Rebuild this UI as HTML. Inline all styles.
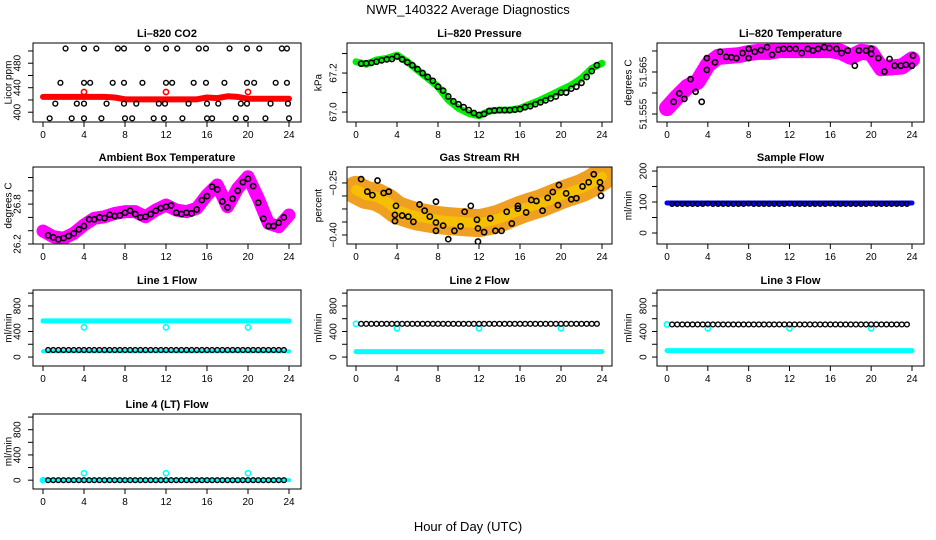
<!DOCTYPE html>
<html><head><meta charset="utf-8">
<style>
html,body{margin:0;padding:0;background:#fff;}
svg{display:block;font-family:"Liberation Sans",Arial,sans-serif;}
</style></head>
<body>
<svg id="c" width="936" height="540" viewBox="0 0 936 540">
<text x="468" y="14" text-anchor="middle" font-size="13">NWR_140322  Average Diagnostics</text>
<text x="468" y="531" text-anchor="middle" font-size="13">Hour of Day (UTC)</text>
</svg>
<script>
// ---------- data ----------
const hours = [0,1,2,3,4,5,6,7,8,9,10,11,12,13,14,15,16,17,18,19,20,21,22,23,24];
const halfT = [0.5,1,1.5,2,2.5,3,3.5,4,4.5,5,5.5,6,6.5,7,7.5,8,8.5,9,9.5,10,10.5,11,11.5,12,12.5,13,13.5,14,14.5,15,15.5,16,16.5,17,17.5,18,18.5,19,19.5,20,20.5,21,21.5,22,22.5,23,23.5];

// CO2
const co2Band = [425,425,425,425,425,425,425,424,421,421,421,421,421,421,421,421,424,423,426,425,422,422,422,422,422];
const co2RedOutT = [4,12,20];
const co2RedOutV = [433,433,433];
const co2BlackT = [2.2,4.0,5.2,7.3,7.9,10.2,12.0,13.1,15.2,15.9,18.2,19.9,21.1,23.3,23.8,
 1.7,4.0,4.6,6.8,7.9,9.7,12.0,12.6,14.7,15.9,17.7,19.9,20.6,22.7,23.8,
 1.2,3.3,4.0,6.2,7.9,9.1,11.3,11.9,14.2,16.0,17.1,19.3,19.9,22.2,23.9,
 0.65,2.8,4.0,5.7,8.0,8.7,10.8,11.8,13.6,16.0,16.5,18.8,19.8,21.7,24.0];
const co2BlackV = [504,504,504,504,504,504,504,504,504,504,504,504,504,504,504,
 448,448,448,448,448,448,448,448,448,448,448,448,448,448,448,
 414,414,414,414,414,414,414,414,414,414,414,414,414,414,414,
 390,390,390,390,390,390,390,390,390,390,390,390,390,390,390];

// Pressure
const presBand = [67.258,67.245,67.267,67.275,67.292,67.258,67.215,67.173,67.13,67.062,67.019,66.993,66.981,67.005,67.01,67.01,67.019,67.041,67.062,67.087,67.113,67.138,67.173,67.224,67.25];
const presBlack = [67.248,67.25,67.252,67.258,67.265,67.27,67.272,67.285,67.27,67.255,67.24,67.22,67.2,67.18,67.16,67.13,67.11,67.08,67.055,67.04,67.025,67.01,66.995,66.985,66.99,67.005,67.008,67.01,67.01,67.01,67.012,67.015,67.025,67.03,67.04,67.05,67.06,67.07,67.08,67.1,67.1,67.12,67.13,67.15,67.18,67.21,67.24];

// Li-820 temperature
const tempBand = [51.5564,51.5591,51.5615,51.5627,51.5667,51.5686,51.5688,51.5690,51.5695,51.5698,51.5698,51.5702,51.5702,51.5702,51.5702,51.5702,51.5702,51.5698,51.5686,51.5698,51.5695,51.5659,51.5661,51.5663,51.5680];
const tempBlackT = [0.65,1.2,1.7,2.3,2.8,3.4,3.9,3.9,4.7,5.2,5.8,6.3,6.8,7.4,8,8,8.6,9.2,9.8,10.3,10.9,11.4,12,12.6,13.2,13.8,14.3,14.8,15.4,15.9,16.6,17.1,17.7,18.4,18.8,19.5,20,20,20.7,21.3,21.8,22.3,22.9,23.4,24,24.1];
const tempBlackV = [51.5579,51.5599,51.5586,51.5633,51.5603,51.5579,51.5683,51.5655,51.5673,51.5698,51.5686,51.5685,51.5683,51.5695,51.5705,51.5683,51.5698,51.5702,51.5709,51.5691,51.5703,51.5705,51.5705,51.5705,51.5695,51.5705,51.5701,51.5705,51.5709,51.5707,51.5705,51.5695,51.5701,51.5665,51.5701,51.5701,51.5693,51.5705,51.5683,51.5651,51.5681,51.5665,51.5665,51.5667,51.5665,51.5689];

// Ambient box temperature
const ambBand = [26.395,26.31,26.285,26.36,26.486,26.586,26.61,26.66,26.686,26.686,26.61,26.71,26.786,26.71,26.686,26.737,26.937,27.087,26.761,27.037,27.212,26.887,26.511,26.46,26.636];
const ambBlack = [26.33,26.3,26.27,26.29,26.32,26.36,26.42,26.47,26.57,26.57,26.6,26.59,26.64,26.62,26.63,26.67,26.7,26.65,26.6,26.61,26.65,26.7,26.74,26.76,26.78,26.67,26.65,26.67,26.66,26.72,26.86,26.92,27.06,27.02,26.84,26.75,26.88,27.0,27.13,27.18,27.07,26.82,26.58,26.47,26.47,26.52,26.6];

// Gas stream RH
const rhBand = [-0.27,-0.285,-0.29,-0.305,-0.328,-0.338,-0.347,-0.352,-0.357,-0.36,-0.362,-0.364,-0.366,-0.36,-0.352,-0.34,-0.328,-0.318,-0.309,-0.297,-0.285,-0.275,-0.265,-0.25,-0.232];
const rhBlackT = [0.5,1.1,1.6,2.1,2.7,3.2,3.9,3.8,3.8,4.5,5.1,5.6,6.2,6.7,7.2,7.8,7.8,7.8,8.5,9,9.6,10.2,10.6,11.2,11.8,11.9,11.9,12.5,13.1,13.6,14.2,14.7,15.2,15.8,15.8,16.6,17.1,17.6,18.2,18.7,19.2,19.7,19.8,20.5,21,21.5,22.1,22.7,23.2,23.8,23.9,23.9];
const rhBlackV = [-0.239,-0.275,-0.285,-0.243,-0.279,-0.275,-0.316,-0.342,-0.36,-0.344,-0.347,-0.362,-0.312,-0.33,-0.347,-0.304,-0.364,-0.388,-0.373,-0.412,-0.388,-0.375,-0.333,-0.316,-0.356,-0.381,-0.419,-0.392,-0.352,-0.388,-0.388,-0.333,-0.367,-0.316,-0.324,-0.335,-0.299,-0.302,-0.33,-0.293,-0.276,-0.314,-0.256,-0.28,-0.297,-0.294,-0.26,-0.248,-0.225,-0.248,-0.265,-0.287];

// Sample flow
const sampleBand = [97,97,97,97,97,97,97,97,97,97,97,97,97,97,97,97,97,97,97,97,97,97,97,97,97];
const sampleBlack = [94,94,94,94,94,94,94,95,94,94,94,94,94,94,94,95,94,94,94,94,94,94,94,95,94,94,94,94,94,94,94,95,94,94,94,94,94,94,94,95,94,94,94,94,94,94,94];

// Line 1
const l1High = [565,565,565,565,565,565,565,565,565,565,565,565,565,565,565,565,565,565,565,565,565,565,565,565,565];
const l1Low = [90,90,90,90,90,90,90,90,90,90,90,90,90,90,90,90,90,90,90,90,90,90,90,90,90];
const l1Black = [110,110,110,110,110,110,110,110,110,110,110,110,110,110,110,110,110,110,110,110,110,110,110,110,110,110,110,110,110,110,110,110,110,110,110,110,110,110,110,110,110,110,110,110,110,110,110];
const l1OutT = [4,12,20];
const l1OutV = [465,465,465];
// Line 2
const l2Low = [85,85,85,85,85,85,85,85,85,85,85,85,85,85,85,85,85,85,85,85,85,85,85,85,85];
const l2Black = [520,520,520,520,520,520,520,520,520,520,520,520,520,520,520,520,520,520,520,520,520,520,520,520,520,520,520,520,520,520,520,520,520,520,520,520,520,520,520,520,520,520,520,520,520,520,520];
const l2OutT = [0,4,12,20];
const l2OutV = [520,450,450,450];
// Line 3
const l3Low = [100,100,100,100,100,100,100,100,100,100,100,100,100,100,100,100,100,100,100,100,100,100,100,100,100];
const l3Black = [510,510,510,510,510,510,510,510,510,510,510,510,510,510,510,510,510,510,510,510,510,510,510,510,510,510,510,510,510,510,510,510,510,510,510,510,510,510,510,510,510,510,510,510,510,510,510];
const l3OutT = [0,4,12,20];
const l3OutV = [510,450,450,450];
// Line 4
const l4Low = [0,0,0,0,0,0,0,0,0,0,0,0,0,0,0,0,0,0,0,0,0,0,0,0,0];
const l4Black = [0,0,0,0,0,0,0,0,0,0,0,0,0,0,0,0,0,0,0,0,0,0,0,0,0,0,0,0,0,0,0,0,0,0,0,0,0,0,0,0,0,0,0,0,0,0,0];
const l4OutT = [0,4,12,20];
const l4OutV = [0,110,110,110];

const xTickLabels = ["0","4","8","12","16","20","24"];

// ---------- drawing ----------
const svg = document.getElementById('c');
const NS = 'http://www.w3.org/2000/svg';
function mk(tag, attrs, parent){
  const e = document.createElementNS(NS, tag);
  for (const k in attrs) e.setAttribute(k, attrs[k]);
  (parent||svg).appendChild(e);
  return e;
}
const cols = [{bx0:33,bx1:301,h0:43,h24:289,lab:17,tit:8},
              {bx0:347,bx1:612,h0:356,h24:602,lab:333,tit:318},
              {bx0:657,bx1:924,h0:667,h24:912,lab:643,tit:628}];
const rows = [{y0:43,y1:122},{y0:167,y1:244},{y0:290,y1:366},{y0:414,y1:489}];

function panel(ci, ri, name, title, ytitle, lo, hi, ticks, labels, draw){
  const c = cols[ci], r = rows[ri];
  const g = mk('g', {});
  
  
  const X = h => c.h0 + h*(c.h24-c.h0)/24;
  const Y = v => r.y1 - (v-lo)/(hi-lo)*(r.y1-r.y0);
  const clipId = 'clip'+ci+ri;
  const cp = mk('clipPath', {id:clipId}, g);
  mk('rect', {x:c.bx0, y:r.y0, width:c.bx1-c.bx0, height:r.y1-r.y0}, cp);
  const plot = mk('g', {'clip-path':'url(#'+clipId+')'}, g);
  
  
  draw(plot, X, Y);
  const box = mk('rect', {x:c.bx0, y:r.y0, width:c.bx1-c.bx0, height:r.y1-r.y0, fill:'none', stroke:'#000', 'stroke-width':1}, g);
  
  
  const t = mk('text', {x:(c.bx0+c.bx1)/2, y:r.y0-6, 'text-anchor':'middle', 'font-size':11, 'font-weight':'bold'}, g);
  t.textContent = title;
  
  
  const xa = mk('g', {}, g);
  
  
  mk('line', {x1:X(0), x2:X(24), y1:r.y1, y2:r.y1, stroke:'#000'}, xa);
  xTickLabels.forEach(l => {
    const h = +l;
    mk('line', {x1:X(h), x2:X(h), y1:r.y1, y2:r.y1+5, stroke:'#000'}, xa);
    const tx = mk('text', {x:X(h), y:r.y1+16, 'text-anchor':'middle', 'font-size':10}, xa);
    tx.textContent = l;
    
    
  });
  const ya = mk('g', {}, g);
  
  
  mk('line', {x1:c.bx0, x2:c.bx0, y1:Y(ticks[0]), y2:Y(ticks[ticks.length-1]), stroke:'#000'}, ya);
  ticks.forEach(v => mk('line', {x1:c.bx0-5, x2:c.bx0, y1:Y(v), y2:Y(v), stroke:'#000'}, ya));
  labels.forEach(([v, s]) => {
    const ty = mk('text', {x:c.lab, y:Y(v), 'text-anchor':'middle', 'font-size':10, transform:'rotate(-90 '+c.lab+' '+Y(v)+')', dy:'0.35em'}, ya);
    ty.textContent = s;
    
    
  });
  const cy = (r.y0+r.y1)/2;
  const yt = mk('text', {x:c.tit, y:cy, 'text-anchor':'middle', 'font-size':10, transform:'rotate(-90 '+c.tit+' '+cy+')', dy:'0.35em'}, g);
  yt.textContent = ytitle;
  
  
}

function band(p, X, Y, ts, vs, color, w, name){
  const pts = ts.map((t,i) => X(t)+','+Y(vs[i])).join(' ');
  const e = mk('polyline', {points:pts, fill:'none', stroke:color, 'stroke-width':w, 'stroke-linejoin':'round', 'stroke-linecap':'round'}, p);
  
  
}
function pts(p, X, Y, ts, vs, color, name, r, sw){
  const g = mk('g', {}, p);
  
  
  ts.forEach((t,i) => mk('circle', {cx:X(t), cy:Y(vs[i]), r:r||2.6, fill:'none', stroke:color, 'stroke-width':sw||1.6}, g));
}

panel(0,0,'co2-panel','Li\u2013820 CO2','Licor ppm',384,513,[400,420,440,460,480,500],[[400,'400'],[440,'440'],[480,'480']],(p,X,Y)=>{
  band(p,X,Y,hours,co2Band,'#ff0000',6,'co2-band');
  pts(p,X,Y,co2RedOutT,co2RedOutV,'#ff0000','co2-red-outliers');
  pts(p,X,Y,co2BlackT,co2BlackV,'#000','co2-black-points',2.4,1.4);
});
panel(1,0,'pressure-panel','Li\u2013820 Pressure','kPa',66.949,67.354,[67.0,67.1,67.2,67.3],[[67.0,'67.0'],[67.2,'67.2']],(p,X,Y)=>{
  band(p,X,Y,hours,presBand,'#00ee00',7,'pressure-band');
  pts(p,X,Y,halfT,presBlack,'#000','pressure-black-points');
});
panel(2,0,'temperature-panel','Li\u2013820 Temperature','degrees C',51.5531,51.5719,[51.555,51.56,51.565,51.57],[[51.555,'51.555'],[51.565,'51.565']],(p,X,Y)=>{
  band(p,X,Y,hours,tempBand,'#ff00ff',16,'temperature-band');
  pts(p,X,Y,tempBlackT,tempBlackV,'#000','temperature-black-points');
});
panel(0,1,'ambient-panel','Ambient Box Temperature','degrees C',26.2,27.358,[26.2,26.4,26.6,26.8,27.0,27.2],[[26.2,'26.2'],[26.8,'26.8']],(p,X,Y)=>{
  band(p,X,Y,hours,ambBand,'#ff00ff',13,'ambient-band');
  pts(p,X,Y,halfT,ambBlack,'#000','ambient-black-points');
});
panel(1,1,'rh-panel','Gas Stream RH','percent',-0.426,-0.204,[-0.25,-0.2875,-0.325,-0.3625,-0.40],[[-0.25,'\u22120.25'],[-0.40,'\u22120.40']],(p,X,Y)=>{
  band(p,X,Y,hours,rhBand,'#f0a020',28,'rh-band');
  band(p,X,Y,hours,rhBand,'#f6c000',10,'rh-band-core');
  pts(p,X,Y,rhBlackT,rhBlackV,'#000','rh-black-points');
});
panel(2,1,'sample-flow-panel','Sample Flow','ml/min',-35.5,213,[0,50,100,150,200],[[0,'0'],[100,'100'],[200,'200']],(p,X,Y)=>{
  band(p,X,Y,hours,sampleBand,'#0000ff',5,'sample-band');
  pts(p,X,Y,halfT,sampleBlack,'#000','sample-black-points',2.4,1.4);
});
const flowTicks = [0,200,400,600,800,1000];
const flowLabels = [[0,'0'],[400,'400'],[800,'800']];
panel(0,2,'line1-panel','Line 1 Flow','ml/min',-140,1049,flowTicks,flowLabels,(p,X,Y)=>{
  band(p,X,Y,hours,l1High,'#00ffff',5,'line1-high-band');
  band(p,X,Y,hours,l1Low,'#00ffff',4,'line1-low-band');
  pts(p,X,Y,l1OutT,l1OutV,'#00ffff','line1-outliers');
  pts(p,X,Y,halfT,l1Black,'#000','line1-black-points',2.4,1.4);
});
panel(1,2,'line2-panel','Line 2 Flow','ml/min',-140,1049,flowTicks,flowLabels,(p,X,Y)=>{
  band(p,X,Y,hours,l2Low,'#00ffff',5,'line2-low-band');
  pts(p,X,Y,l2OutT,l2OutV,'#00ffff','line2-outliers');
  pts(p,X,Y,halfT,l2Black,'#000','line2-black-points',2.4,1.4);
});
panel(2,2,'line3-panel','Line 3 Flow','ml/min',-140,1049,flowTicks,flowLabels,(p,X,Y)=>{
  band(p,X,Y,hours,l3Low,'#00ffff',5,'line3-low-band');
  pts(p,X,Y,l3OutT,l3OutV,'#00ffff','line3-outliers');
  pts(p,X,Y,halfT,l3Black,'#000','line3-black-points',2.4,1.4);
});
panel(0,3,'line4-panel','Line 4 (LT) Flow','ml/min',-140,1049,flowTicks,flowLabels,(p,X,Y)=>{
  band(p,X,Y,hours,l4Low,'#00ffff',4,'line4-low-band');
  pts(p,X,Y,l4OutT,l4OutV,'#00ffff','line4-outliers');
  pts(p,X,Y,halfT,l4Black,'#000','line4-black-points',2.4,1.4);
});
</script>
</body></html>
